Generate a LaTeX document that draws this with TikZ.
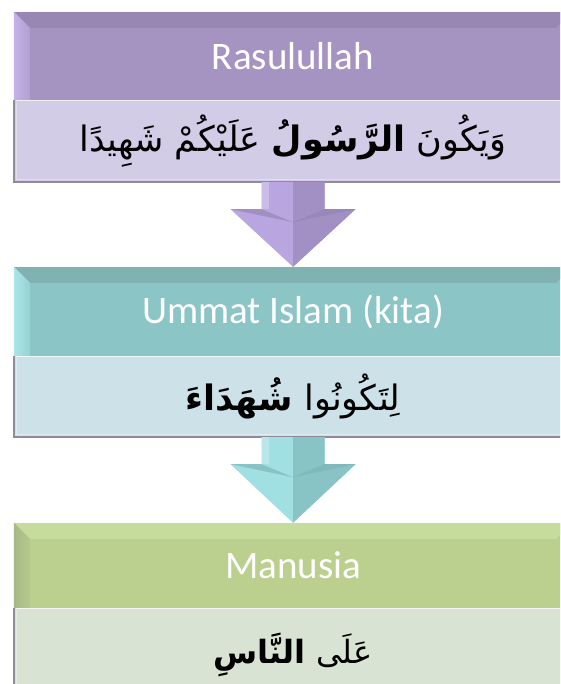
\documentclass[tikz,border=0pt]{standalone}
\usepackage{fontspec}
\newfontfamily\headfont{Carlito}
\newfontfamily\arabicfont[Script=Arabic]{DejaVu Sans}
\TeXXeTstate=1
\definecolor{pH}{HTML}{A593C2}
\definecolor{pTop}{HTML}{9886B3}
\definecolor{pLeft}{HTML}{C3B1E8}
\definecolor{pT}{HTML}{D3CCE6}
\definecolor{pAL}{HTML}{B9A6E0}
\definecolor{pAD}{HTML}{A28FC3}
\definecolor{tH}{HTML}{8CC5C6}
\definecolor{tTop}{HTML}{80B2B2}
\definecolor{tLeft}{HTML}{A9E6E9}
\definecolor{tT}{HTML}{CCE2E8}
\definecolor{tAL}{HTML}{A0DFE2}
\definecolor{tAD}{HTML}{88C3C5}
\definecolor{gH}{HTML}{BBD08F}
\definecolor{gTop}{HTML}{C6DC9C}
\definecolor{gLeft}{HTML}{A8BA84}
\definecolor{gT}{HTML}{D9E3D3}
\definecolor{edge}{HTML}{8F8C98}
\tikzset{
  hdr/.style={rectangle, minimum width=558pt, inner sep=0pt, text=white,
    font=\headfont\fontsize{39}{46}\selectfont},
  tbox/.style={rectangle, minimum width=558pt, inner sep=0pt, text=black},
  arab/.style={inner sep=0pt, text=black, font=\arabicfont\fontsize{#1}{#1}\selectfont},
  rim/.style={draw=edge, line width=1.5pt},
  shine/.style={draw=white, line width=1pt, opacity=.7}
}
\newcommand\mybevel[4]{%
  \fill[#2] (#1.north west) -- (#1.north east) -- ([shift={(-16pt,-16pt)}]#1.north east) -- ([shift={(16pt,-16pt)}]#1.north west) -- cycle;
  \shade[left color=#3, right color=#3!60!#2] (#1.north west) -- ([shift={(16pt,-16pt)}]#1.north west) -- ([xshift=16pt]#1.south west) -- (#1.south west) -- cycle;
  \draw[shine] (#1.north west) -- (#1.north east);
}
\newcommand\myrim[1]{%
  \draw[shine] ([xshift=2pt,yshift=-1pt]#1.north west) -- ([yshift=-1pt]#1.north east);
  \draw[rim] (#1.north west) -- (#1.south west) -- (#1.south east);
  \draw[draw=white, opacity=.35, line width=1pt] ([shift={(3pt,-2pt)}]#1.north west) -- ([shift={(3pt,3pt)}]#1.south west) -- ([shift={(0pt,3pt)}]#1.south east);
}
\newcommand\myarrow[4]{%
  \fill[#3] ([xshift=-31.5pt]#1.south) -- ([shift={(-31.5pt,-27pt)}]#1.south) -- ([shift={(-62.5pt,-27pt)}]#1.south) -- (#2.north) -- ([shift={(62.5pt,-27pt)}]#1.south) -- ([shift={(31.5pt,-27pt)}]#1.south) -- ([xshift=31.5pt]#1.south) -- cycle;
  \fill[#4] (#1.south) -- ([xshift=31.5pt]#1.south) -- ([shift={(31.5pt,-27pt)}]#1.south) -- ([shift={(62.5pt,-27pt)}]#1.south) -- (#2.north) -- ([yshift=-40pt]#1.south) -- cycle;
  \fill[#4!85!black, opacity=.5] ([shift={(-62.5pt,-27pt)}]#1.south) -- ([shift={(-31.5pt,-27pt)}]#1.south) -- ([yshift=-40pt]#1.south) -- cycle;
  \fill[#4!85!black, opacity=.35] ([shift={(62.5pt,-27pt)}]#1.south) -- ([shift={(31.5pt,-27pt)}]#1.south) -- ([yshift=-40pt]#1.south) -- cycle;
  \fill[white, opacity=.25] ([xshift=-31.5pt]#1.south) -- ([xshift=-24pt]#1.south) -- ([shift={(-24pt,-27pt)}]#1.south) -- ([shift={(-31.5pt,-27pt)}]#1.south) -- cycle;
}
\begin{document}
\begin{tikzpicture}[x=1pt,y=1pt]
\useasboundingbox (0,0) rectangle (560,684);
\clip (0,0) rectangle (560,684);
% box 1
\node[hdr, fill=pH, minimum height=88pt] (h1) at (293,628) {};
\mybevel{h1}{pTop}{pLeft}{pH}
\node[hdr] (l1) at (h1.center) {Rasulullah};
\node[tbox, fill=pT, minimum height=82pt] (a1) at (293,543) {};
\myrim{a1}
\node[arab=35] (r1) at (a1.center) {\beginR وَيَكُونَ {\bfseries الرَّسُولُ} عَلَيْكُمْ شَهِيدًا\endR};
% box 2
\node[hdr, fill=tH, minimum height=89pt] (h2) at (293,372.5) {};
\mybevel{h2}{tTop}{tLeft}{tH}
\node[hdr] (l2) at (h2.center) {Ummat Islam (kita)};
\node[tbox, fill=tT, minimum height=81pt] (a2) at (293,287.5) {};
\myrim{a2}
\node[arab=35] (r2) at (a2.center) {\beginR لِتَكُونُوا {\bfseries شُهَدَاءَ}\endR};
% box 3
\node[hdr, fill=gH, minimum height=85pt] (h3) at (293,118.5) {};
\mybevel{h3}{gTop}{gLeft}{gH}
\node[hdr] (l3) at (h3.center) {Manusia};
\node[tbox, fill=gT, minimum height=82pt] (a3) at (293,35) {};
\myrim{a3}
\node[arab=32] (r3) at ([yshift=-6pt]a3.center) {\beginR عَلَى {\bfseries النَّاسِ}\endR};
% arrows
\myarrow{a1}{h2}{pAL}{pAD}
\myarrow{a2}{h3}{tAL}{tAD}
\end{tikzpicture}
\end{document}
